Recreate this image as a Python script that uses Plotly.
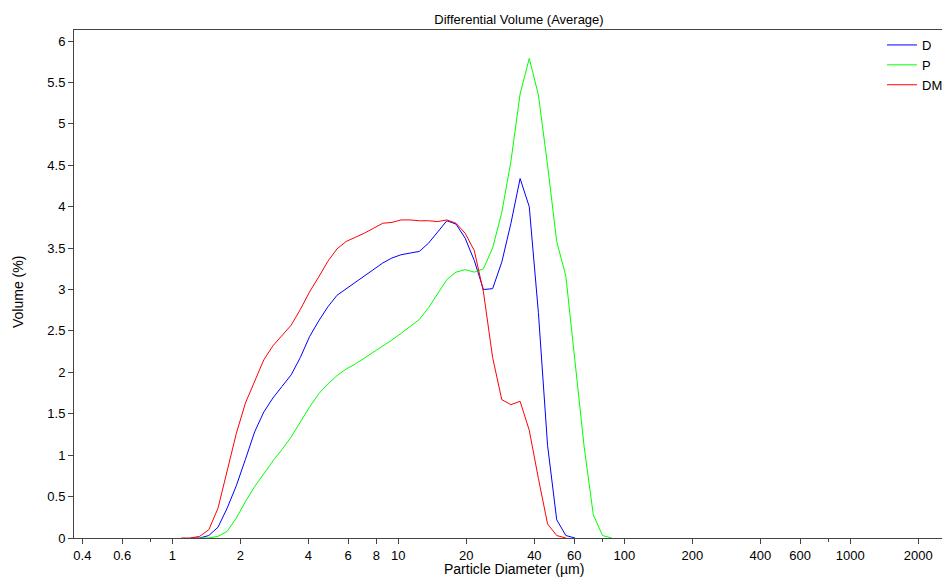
import plotly.graph_objects as go

# Channel centre diameters (µm), LS-type log channels
diameters = [1.097, 1.204, 1.322, 1.451, 1.593, 1.749, 1.919, 2.107, 2.313, 2.539,
             2.787, 3.059, 3.358, 3.687, 4.047, 4.443, 4.877, 5.354, 5.878, 6.452,
             7.083, 7.776, 8.536, 9.370, 10.29, 11.29, 12.40, 13.61, 14.94, 16.40,
             18.00, 19.76, 21.69, 23.81, 26.14, 28.70, 31.51, 34.59, 37.97, 41.68,
             45.76, 50.23, 55.14, 60.53, 66.44, 72.94, 80.07, 87.90]

vol_D = [None, 0, 0, 0.03, 0.13, 0.36, 0.63, 0.95, 1.28, 1.52,
         1.69, 1.83, 1.97, 2.18, 2.43, 2.62, 2.79, 2.93, 3.01, 3.09,
         3.16, 3.24, 3.32, 3.38, 3.42, 3.44, 3.46, 3.56, 3.69, 3.83,
         3.79, 3.62, 3.35, 3.00, 3.01, 3.33, 3.80, 4.34, 4.00, 2.72,
         1.12, 0.22, 0.03, 0, None, None, None, None]

vol_P = [None, None, 0, 0, 0.02, 0.08, 0.24, 0.44, 0.62, 0.78,
         0.93, 1.07, 1.22, 1.40, 1.58, 1.74, 1.86, 1.96, 2.04, 2.10,
         2.17, 2.25, 2.32, 2.39, 2.47, 2.55, 2.64, 2.78, 2.95, 3.12,
         3.21, 3.24, 3.21, 3.25, 3.50, 3.93, 4.55, 5.36, 5.79, 5.35,
         4.50, 3.58, 3.16, 2.10, 1.10, 0.28, 0.03, 0]

vol_DM = [0, 0, 0.02, 0.10, 0.36, 0.80, 1.26, 1.63, 1.90, 2.15,
          2.32, 2.45, 2.57, 2.76, 2.97, 3.15, 3.34, 3.49, 3.58, 3.63,
          3.68, 3.74, 3.80, 3.81, 3.84, 3.84, 3.83, 3.83, 3.82, 3.84,
          3.80, 3.68, 3.47, 2.97, 2.18, 1.67, 1.61, 1.65, 1.30, 0.72,
          0.17, 0.03, 0, None, None, None, None, None]

series = [("D", vol_D, "#0000ff"), ("P", vol_P, "#00ff00"), ("DM", vol_DM, "#ff0000")]

x_tickvals = [0.4, 0.6, 1, 2, 4, 6, 8, 10, 20, 40, 60, 100, 200, 400, 600, 1000, 2000]
x_ticktext = ["0.4", "0.6", "1", "2", "4", "6", "8", "10", "20", "40", "60", "100",
              "200", "400", "600", "1000", "2000"]
x_minor = [0.8, 80, 800]

FONT = "Liberation Sans, Arial, sans-serif"

fig = go.Figure()
for name, vals, col in series:
    fig.add_trace(go.Scatter(x=diameters, y=vals, mode="lines", name=name,
                             line=dict(color=col, width=1), connectgaps=False))

fig.update_layout(
    width=942, height=578,
    margin=dict(l=74, r=0, t=30, b=40, autoexpand=False),
    paper_bgcolor="white", plot_bgcolor="white",
    font=dict(family=FONT, size=13, color="black"),
    title=dict(text="Differential Volume (Average)", x=519 / 942, xanchor="center",
               y=1 - 19 / 578, yanchor="middle", font=dict(size=13, family=FONT)),
    showlegend=True,
    legend=dict(x=(882 - 74) / 868, xanchor="left", y=1.0, yanchor="top",
                bgcolor="rgba(0,0,0,0)", font=dict(size=13, family=FONT),
                tracegroupgap=0, itemwidth=30),
    xaxis=dict(type="log", range=[-0.43496, 3.4058],
               tickmode="array", tickvals=x_tickvals, ticktext=x_ticktext,
               ticks="outside", ticklen=5, tickcolor="#444", tickwidth=1,
               minor=dict(tickmode="array", tickvals=x_minor, ticks="outside",
                          ticklen=3, tickcolor="#444", showgrid=False),
               showline=True, linecolor="#444", linewidth=1, mirror=True,
               showgrid=False, zeroline=False,
               tickfont=dict(size=13, family=FONT)),
    yaxis=dict(range=[0, 6.133], tickmode="linear", tick0=0, dtick=0.5,
               ticks="outside", ticklen=5, tickcolor="#444", tickwidth=1,
               showline=True, linecolor="#444", linewidth=1, mirror=False,
               showgrid=False, zeroline=False,
               tickfont=dict(size=13, family=FONT)),
    annotations=[
        dict(text="Particle Diameter (µm)", xref="paper", yref="paper",
             x=(514 - 74) / 868, y=-(569 - 538) / 508, xanchor="center", yanchor="middle",
             showarrow=False, font=dict(size=14, family=FONT)),
        dict(text="Volume (%)", xref="paper", yref="paper", textangle=-90,
             x=(18 - 74) / 868, y=(538 - 292) / 508, xanchor="center", yanchor="middle",
             showarrow=False, font=dict(size=14, family=FONT)),
    ],
)

fig.write_html("out.html", config={"displayModeBar": False},
               post_script="document.body.style.margin='0';document.body.style.overflow='hidden';")
